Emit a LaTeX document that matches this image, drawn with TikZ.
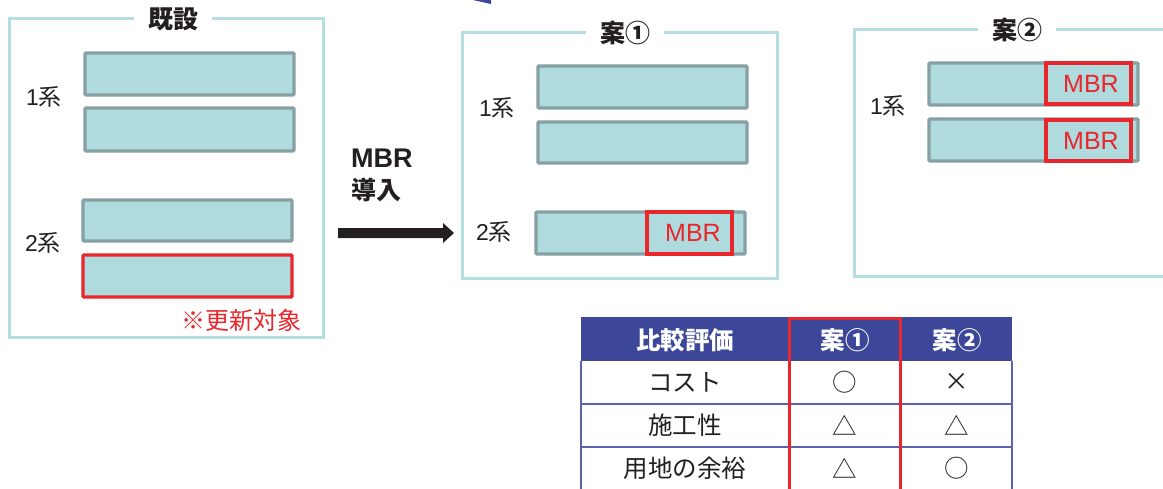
\documentclass[tikz,border=0pt]{standalone}
\usepackage{fontspec}
\setmainfont{Noto Sans CJK JP}
\newfontfamily\lat{Liberation Sans}
\definecolor{frameC}{HTML}{B3DFE1}
\definecolor{barF}{HTML}{B0DBDE}
\definecolor{barD}{HTML}{86A0A3}
\definecolor{redC}{HTML}{E8262B}
\definecolor{hdrC}{HTML}{3C4799}
\definecolor{lineC}{HTML}{5A63AD}
\definecolor{txtC}{HTML}{231F20}
\begin{document}
\begin{tikzpicture}[x=1pt,y=-1pt,
  frm/.style={draw=frameC,line width=3pt},
  ttl/.style={fill=white,inner sep=0pt,minimum width=78pt,minimum height=20pt,font=\fontsize{25}{27}\selectfont\bfseries,text=txtC},
  bar/.style={draw=barD,fill=barF,line width=3.3pt,rounded corners=1pt},
  redbox/.style={draw=redC,line width=3.2pt},
  lbl/.style={font=\fontsize{23}{25}\selectfont,text=txtC,inner sep=0pt},
  mbr/.style={font=\lat\fontsize{25}{27}\selectfont,text=redC,inner sep=0pt},
  tcell/.style={font=\fontsize{24.5}{26}\selectfont,text=txtC,inner sep=0pt},
  thdr/.style={font=\fontsize{24.5}{26}\selectfont\bfseries,text=white,inner sep=0pt}]
\useasboundingbox (0,0) rectangle (1163,488);
% fragment at top
\fill[hdrC] (473,0) -- (491,0) -- (491,4) -- cycle;

% ---------- existing ----------
\draw[frm] (9,18) rectangle (323,337);
\node[ttl] (t0) at (173,19) {既設};
\draw[bar] (85,53) rectangle (294,95);
\draw[bar] (85,108) rectangle (294,151);
\draw[bar] (83,200) rectangle (292,241);
\draw[bar,draw=redC] (83,255) rectangle (292,297);
\node[lbl] (l01) at (44,97) {{\lat 1}系};
\node[lbl] (l02) at (43,243) {{\lat 2}系};
\node[font=\fontsize{24}{26}\selectfont,text=redC,inner sep=0pt] (note) at (241,320) {※更新対象};

% ---------- arrow ----------
\node[font=\lat\fontsize{27}{29}\selectfont\bfseries,text=txtC,inner sep=0pt,anchor=west] (m1) at (351,158) {MBR};
\node[font=\fontsize{25}{27}\selectfont\bfseries,text=txtC,inner sep=0pt,anchor=west] (m2) at (351,190) {導入};
\coordinate (a0) at (338,233);
\coordinate (a1) at (443,233);
\coordinate (a2) at (454,233);
\fill[txtC] (338,228) -- (443,228) -- (443,223) -- (454,233) -- (443,243) -- (443,238) -- (338,238) -- cycle;

% ---------- plan 1 ----------
\draw[frm] (462,32) rectangle (777,278);
\node[ttl] (t1) at (625,33) {案①};
\draw[bar] (538,66) rectangle (747,108);
\draw[bar] (538,122) rectangle (747,163);
\draw[bar] (536,212) rectangle (745,254);
\draw[redbox] (647,212) rectangle (732,254);
\node[mbr] (b1) at (693,233) {MBR};
\node[lbl] (l11) at (497,108) {{\lat 1}系};
\node[lbl] (l12) at (494,232) {{\lat 2}系};

% ---------- plan 2 ----------
\draw[frm] (1170,29) -- (854,29) -- (854,276) -- (1170,276);
\node[ttl] (t2) at (1017,30) {案②};
\draw[bar] (929,63) rectangle (1138,105);
\draw[bar] (929,119) rectangle (1138,161);
\draw[redbox] (1046,63) rectangle (1131,104);
\draw[redbox] (1046,120) rectangle (1131,161);
\node[mbr] (b2) at (1091,84) {MBR};
\node[mbr] (b3) at (1091,141) {MBR};
\node[lbl] (l21) at (888,106) {{\lat 1}系};

% ---------- table ----------
\fill[hdrC] (581,317) rectangle (1012,361);
\draw[lineC,line width=1.5pt] (581,361) -- (581,490);
\draw[lineC,line width=1.5pt] (1012,361) -- (1012,490);
\draw[lineC,line width=1.5pt] (581,404) -- (1012,404);
\draw[lineC,line width=1.5pt] (581,447) -- (1012,447);
\draw[redC,line width=3pt] (789,492) -- (789,318) -- (900,318) -- (900,492);
\node[thdr] (h1) at (685,340) {比較評価};
\node[thdr] (h2) at (845,340) {案①};
\node[thdr] (h3) at (957,340) {案②};
\node[tcell] (r11) at (685,382) {コスト};
\node[tcell] (r12) at (845,382) {○};
\node[tcell] (r13) at (957,382) {×};
\node[tcell] (r21) at (685,425) {施工性};
\node[tcell] (r22) at (845,425) {△};
\node[tcell] (r23) at (957,425) {△};
\node[tcell] (r31) at (685,468) {用地の余裕};
\node[tcell] (r32) at (845,468) {△};
\node[tcell] (r33) at (957,468) {○};
\end{tikzpicture}
\end{document}
